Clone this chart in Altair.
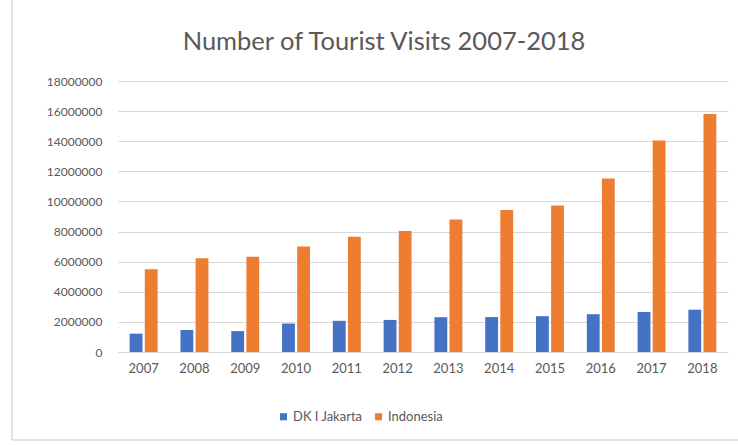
import altair as alt
import pandas as pd

years = ["2007", "2008", "2009", "2010", "2011", "2012",
         "2013", "2014", "2015", "2016", "2017", "2018"]
jakarta = [1220000, 1460000, 1390000, 1890000, 2070000, 2130000,
           2310000, 2320000, 2380000, 2510000, 2660000, 2810000]
indonesia = [5500000, 6230000, 6320000, 7000000, 7650000, 8040000,
             8800000, 9440000, 9730000, 11520000, 14040000, 15810000]
series = ["DK I Jakarta", "Indonesia"]
colors = ["#4472C4", "#ED7D31"]
title_text = ["Number of Tourist Visits 2007-2018"]

rows = []
for i, y in enumerate(years):
    rows.append({"Year": y, "Series": series[0], "Visits": jakarta[i]})
    rows.append({"Year": y, "Series": series[1], "Visits": indonesia[i]})
df = pd.DataFrame(rows)
tdf = pd.DataFrame({"t": title_text})

FONT = "Lato"
GRAY = "#595959"

bars = alt.Chart(df).mark_bar().encode(
    x=alt.X("Year:N", sort=years, title=None,
            scale=alt.Scale(paddingInner=0.45, paddingOuter=0.23),
            axis=alt.Axis(labelAngle=0, labelFontSize=13, labelColor=GRAY,
                          labelFont=FONT, ticks=False, domainColor="#d9d9d9",
                          labelPadding=10, grid=False)),
    xOffset=alt.XOffset("Series:N", sort=series,
                        scale=alt.Scale(paddingInner=0.15)),
    y=alt.Y("Visits:Q", title=None,
            scale=alt.Scale(domain=[0, 18000000]),
            axis=alt.Axis(values=list(range(0, 18000001, 2000000)), format="d",
                          labelFontSize=12, labelColor=GRAY, labelFont=FONT,
                          ticks=False, domain=False, gridColor="#d9d9d9",
                          labelPadding=16)),
    color=alt.Color("Series:N", sort=series,
                    scale=alt.Scale(domain=series, range=colors),
                    legend=alt.Legend(title=None, orient="none", direction="horizontal",
                                      legendX=159, legendY=329, symbolType="square",
                                      symbolSize=50, labelFontSize=13, labelColor=GRAY,
                                      labelFont=FONT, labelOffset=3, columnPadding=9)),
)

title = alt.Chart(tdf).mark_text(fontSize=25.5, font=FONT, color=GRAY,
                                 align="center", baseline="middle").encode(
    text="t:N", x=alt.value(266), y=alt.value(-39))

frame_v = alt.Chart(tdf).mark_rule(color="#d9d9d9", strokeWidth=1.5).encode(
    x=alt.value(-106), y=alt.value(-81), y2=alt.value(359))
frame_h = alt.Chart(tdf).mark_rule(color="#d9d9d9", strokeWidth=1.5).encode(
    x=alt.value(-106), x2=alt.value(620), y=alt.value(359))

chart = alt.layer(frame_v, frame_h, title, bars).properties(
    width=610, height=271,
    autosize=alt.AutoSizeParams(type="none"),
    padding={"left": 118, "top": 81, "right": 10, "bottom": 93},
).configure_view(stroke=None)

chart.save("out.html", embed_options={"renderer": "svg", "actions": False})
